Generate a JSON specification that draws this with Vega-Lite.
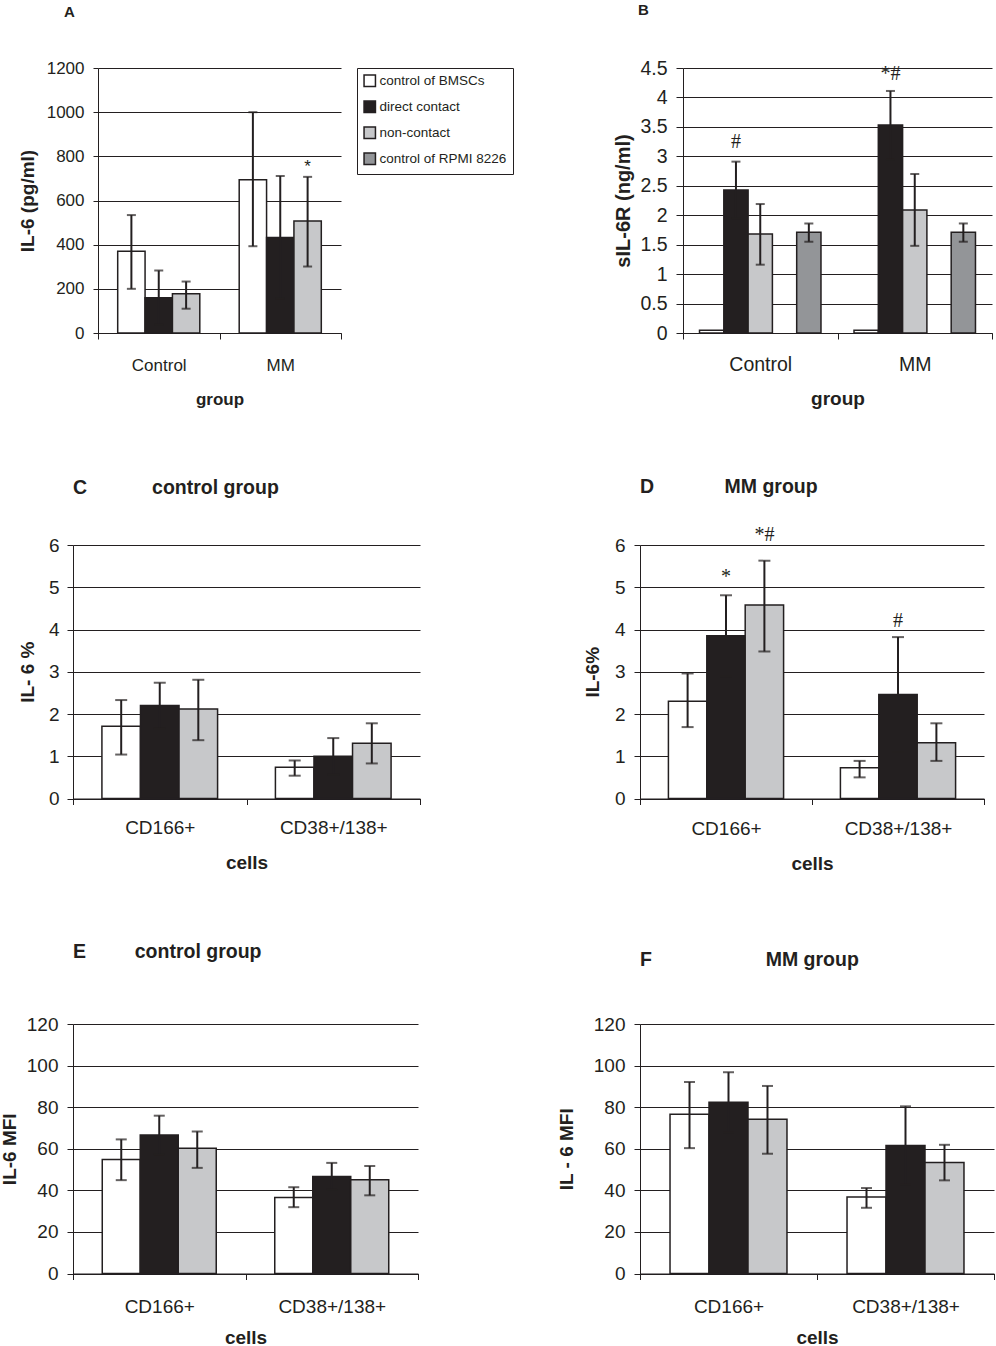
{
  "$schema": "https://vega.github.io/schema/vega-lite/v6.json",
  "background": "white",
  "padding": {"left": 0, "top": 2, "right": 0, "bottom": 0},
  "spacing": 68,
  "align": "none",
  "datasets": {
    "a": [
      {"group": "Control", "series": "control of BMSCs", "value": 370, "lo": 200, "hi": 534},
      {"group": "Control", "series": "direct contact", "value": 160, "lo": 37, "hi": 283},
      {"group": "Control", "series": "non-contact", "value": 178, "lo": 110, "hi": 233},
      {"group": "MM", "series": "control of BMSCs", "value": 694, "lo": 393, "hi": 1000},
      {"group": "MM", "series": "direct contact", "value": 433, "lo": 155, "hi": 711},
      {"group": "MM", "series": "non-contact", "value": 507, "lo": 301, "hi": 707}
    ],
    "a_note": [
      {"group": "MM", "series": "non-contact", "y": 752, "label": "*"}
    ],
    "b": [
      {"group": "Control", "series": "control of BMSCs", "value": 0.045},
      {"group": "Control", "series": "direct contact", "value": 2.43, "lo": 1.95, "hi": 2.91},
      {"group": "Control", "series": "non-contact", "value": 1.68, "lo": 1.16, "hi": 2.19},
      {"group": "Control", "series": "control of RPMI 8226", "value": 1.71, "lo": 1.55, "hi": 1.86},
      {"group": "MM", "series": "control of BMSCs", "value": 0.045},
      {"group": "MM", "series": "direct contact", "value": 3.53, "lo": 2.95, "hi": 4.11},
      {"group": "MM", "series": "non-contact", "value": 2.09, "lo": 1.48, "hi": 2.7},
      {"group": "MM", "series": "control of RPMI 8226", "value": 1.71, "lo": 1.55, "hi": 1.86}
    ],
    "b_note": [
      {"group": "Control", "series": "direct contact", "y": 3.25, "label": "#"},
      {"group": "MM", "series": "direct contact", "y": 4.39, "label": "*#"}
    ],
    "c": [
      {"group": "CD166+", "series": "control of BMSCs", "value": 1.71, "lo": 1.04, "hi": 2.33},
      {"group": "CD166+", "series": "direct contact", "value": 2.2, "lo": 1.66, "hi": 2.74},
      {"group": "CD166+", "series": "non-contact", "value": 2.12, "lo": 1.38, "hi": 2.81},
      {"group": "CD38+/138+", "series": "control of BMSCs", "value": 0.74, "lo": 0.54, "hi": 0.9},
      {"group": "CD38+/138+", "series": "direct contact", "value": 1.0, "lo": 0.57, "hi": 1.43},
      {"group": "CD38+/138+", "series": "non-contact", "value": 1.31, "lo": 0.83, "hi": 1.78}
    ],
    "d": [
      {"group": "CD166+", "series": "control of BMSCs", "value": 2.3, "lo": 1.69, "hi": 2.96},
      {"group": "CD166+", "series": "direct contact", "value": 3.85, "lo": 2.89, "hi": 4.81},
      {"group": "CD166+", "series": "non-contact", "value": 4.58, "lo": 3.48, "hi": 5.63},
      {"group": "CD38+/138+", "series": "control of BMSCs", "value": 0.73, "lo": 0.5, "hi": 0.89},
      {"group": "CD38+/138+", "series": "direct contact", "value": 2.46, "lo": 1.1, "hi": 3.82},
      {"group": "CD38+/138+", "series": "non-contact", "value": 1.32, "lo": 0.89, "hi": 1.78}
    ],
    "d_note": [
      {"group": "CD166+", "series": "direct contact", "y": 5.24, "label": "*"},
      {"group": "CD166+", "series": "non-contact", "y": 6.23, "label": "*#"},
      {"group": "CD38+/138+", "series": "direct contact", "y": 4.21, "label": "#"}
    ],
    "e": [
      {"group": "CD166+", "series": "control of BMSCs", "value": 54.8, "lo": 44.9, "hi": 64.5},
      {"group": "CD166+", "series": "direct contact", "value": 66.6, "lo": 57.3, "hi": 75.9},
      {"group": "CD166+", "series": "non-contact", "value": 60.2, "lo": 50.8, "hi": 68.3},
      {"group": "CD38+/138+", "series": "control of BMSCs", "value": 36.5, "lo": 31.9, "hi": 41.5},
      {"group": "CD38+/138+", "series": "direct contact", "value": 46.7, "lo": 40.2, "hi": 53.2},
      {"group": "CD38+/138+", "series": "non-contact", "value": 45.1, "lo": 37.6, "hi": 51.7}
    ],
    "f": [
      {"group": "CD166+", "series": "control of BMSCs", "value": 76.6, "lo": 60.3, "hi": 92.1},
      {"group": "CD166+", "series": "direct contact", "value": 82.4, "lo": 68.0, "hi": 96.8},
      {"group": "CD166+", "series": "non-contact", "value": 74.2, "lo": 57.6, "hi": 90.2},
      {"group": "CD38+/138+", "series": "control of BMSCs", "value": 36.8, "lo": 31.6, "hi": 41.1},
      {"group": "CD38+/138+", "series": "direct contact", "value": 61.6, "lo": 42.8, "hi": 80.4},
      {"group": "CD38+/138+", "series": "non-contact", "value": 53.4, "lo": 44.8, "hi": 61.9}
    ]
  },
  "vconcat": [
    {
      "hconcat": [
        {
          "width": 268,
          "height": 265,
          "title": {"text": "A", "fontSize": 15, "dx": -9, "offset": 39.5},
          "data": {"name": "a"},
          "encoding": {
            "x": {"field": "group", "type": "nominal", "sort": null, "title": "group",
              "scale": {"range": [25, 268], "paddingInner": 0, "paddingOuter": 0},
              "axis": {"labelAngle": 0, "tickBand": "extent", "tickSize": 6, "labelPadding": 18, "titlePadding": 18, "labelFontSize": 17, "titleFontSize": 17}},
            "xOffset": {"field": "series", "type": "nominal", "sort": null,
              "scale": {"domain": ["control of BMSCs", "direct contact", "non-contact"], "paddingInner": 0, "paddingOuter": 0.72}}
          },
          "layer": [
            {
              "mark": {"type": "bar", "stroke": "#231f20", "strokeWidth": 1.5},
              "encoding": {
                "y": {"field": "value", "type": "quantitative", "title": "IL-6 (pg/ml)",
                  "scale": {"domain": [0, 1200], "nice": false},
                  "axis": {"values": [0, 200, 400, 600, 800, 1000, 1200], "format": "d", "offset": -25, "tickSize": 5, "labelPadding": 9, "titlePadding": 8.7, "labelFontSize": 17, "titleFontSize": 19}},
                "fill": {"field": "series", "type": "nominal",
                  "scale": {"domain": ["control of BMSCs", "direct contact", "non-contact", "control of RPMI 8226"], "range": ["#ffffff", "#231f20", "#c7c8ca", "#939598"]},
                  "legend": {"title": null, "orient": "right", "offset": 16, "padding": 6, "strokeColor": "#231f20", "fillColor": "white",
                    "symbolType": "square", "symbolSize": 130, "symbolStrokeColor": "#231f20", "symbolStrokeWidth": 1.5,
                    "labelFontSize": 13.5, "labelColor": "#231f20", "labelOffset": 3, "rowPadding": 8, "labelLimit": 300}}
              }
            },
            {
              "mark": {"type": "rule", "color": "#231f20", "strokeWidth": 2},
              "encoding": {
                "y": {"field": "lo", "type": "quantitative", "title": "IL-6 (pg/ml)",
                  "scale": {"domain": [0, 1200], "nice": false},
                  "axis": {"values": [0, 200, 400, 600, 800, 1000, 1200], "format": "d", "offset": -25, "tickSize": 5, "labelPadding": 9, "titlePadding": 8.7, "labelFontSize": 17, "titleFontSize": 19}},
                "y2": {"field": "hi"}
              }
            },
            {
              "mark": {"type": "tick", "color": "#231f20", "thickness": 2, "size": 9},
              "encoding": {
                "y": {"field": "lo", "type": "quantitative", "title": "IL-6 (pg/ml)",
                  "scale": {"domain": [0, 1200], "nice": false},
                  "axis": {"values": [0, 200, 400, 600, 800, 1000, 1200], "format": "d", "offset": -25, "tickSize": 5, "labelPadding": 9, "titlePadding": 8.7, "labelFontSize": 17, "titleFontSize": 19}}
              }
            },
            {
              "mark": {"type": "tick", "color": "#231f20", "thickness": 2, "size": 9},
              "encoding": {
                "y": {"field": "hi", "type": "quantitative", "title": "IL-6 (pg/ml)",
                  "scale": {"domain": [0, 1200], "nice": false},
                  "axis": {"values": [0, 200, 400, 600, 800, 1000, 1200], "format": "d", "offset": -25, "tickSize": 5, "labelPadding": 9, "titlePadding": 8.7, "labelFontSize": 17, "titleFontSize": 19}}
              }
            },
            {
              "data": {"name": "a_note"},
              "mark": {"type": "text", "fontSize": 17, "baseline": "middle", "color": "#231f20"},
              "encoding": {
                "y": {"field": "y", "type": "quantitative", "title": "IL-6 (pg/ml)",
                  "scale": {"domain": [0, 1200], "nice": false},
                  "axis": {"values": [0, 200, 400, 600, 800, 1000, 1200], "format": "d", "offset": -25, "tickSize": 5, "labelPadding": 9, "titlePadding": 8.7, "labelFontSize": 17, "titleFontSize": 19}},
                "text": {"field": "label"}
              }
            }
          ]
        },
        {
          "width": 309,
          "height": 265,
          "title": {"text": "B", "fontSize": 15, "dx": -45, "offset": 40.5},
          "data": {"name": "b"},
          "encoding": {
            "x": {"field": "group", "type": "nominal", "sort": null, "title": "group",
              "scale": {"paddingInner": 0, "paddingOuter": 0},
              "axis": {"labelAngle": 0, "tickBand": "extent", "tickSize": 6, "labelPadding": 16, "titlePadding": 15.5, "labelFontSize": 19.5, "titleFontSize": 19}},
            "xOffset": {"field": "series", "type": "nominal", "sort": null,
              "scale": {"domain": ["control of BMSCs", "direct contact", "non-contact", "gap", "control of RPMI 8226"], "paddingInner": 0, "paddingOuter": 0.68}}
          },
          "layer": [
            {
              "mark": {"type": "bar", "stroke": "#231f20", "strokeWidth": 1.5},
              "encoding": {
                "y": {"field": "value", "type": "quantitative", "title": "sIL-6R (ng/ml)",
                  "scale": {"domain": [0, 4.5], "nice": false},
                  "axis": {"values": [0, 0.5, 1, 1.5, 2, 2.5, 3, 3.5, 4, 4.5], "format": "~g", "tickSize": 7, "labelPadding": 9, "titlePadding": 6, "labelFontSize": 19.5, "titleFontSize": 20}},
                "fill": {"field": "series", "type": "nominal",
                  "scale": {"domain": ["control of BMSCs", "direct contact", "non-contact", "control of RPMI 8226"], "range": ["#ffffff", "#231f20", "#c7c8ca", "#939598"]},
                  "legend": null}
              }
            },
            {
              "mark": {"type": "rule", "color": "#231f20", "strokeWidth": 2},
              "encoding": {
                "y": {"field": "lo", "type": "quantitative", "title": "sIL-6R (ng/ml)",
                  "scale": {"domain": [0, 4.5], "nice": false},
                  "axis": {"values": [0, 0.5, 1, 1.5, 2, 2.5, 3, 3.5, 4, 4.5], "format": "~g", "tickSize": 7, "labelPadding": 9, "titlePadding": 6, "labelFontSize": 19.5, "titleFontSize": 20}},
                "y2": {"field": "hi"}
              }
            },
            {
              "mark": {"type": "tick", "color": "#231f20", "thickness": 2, "size": 9},
              "encoding": {
                "y": {"field": "lo", "type": "quantitative", "title": "sIL-6R (ng/ml)",
                  "scale": {"domain": [0, 4.5], "nice": false},
                  "axis": {"values": [0, 0.5, 1, 1.5, 2, 2.5, 3, 3.5, 4, 4.5], "format": "~g", "tickSize": 7, "labelPadding": 9, "titlePadding": 6, "labelFontSize": 19.5, "titleFontSize": 20}}
              }
            },
            {
              "mark": {"type": "tick", "color": "#231f20", "thickness": 2, "size": 9},
              "encoding": {
                "y": {"field": "hi", "type": "quantitative", "title": "sIL-6R (ng/ml)",
                  "scale": {"domain": [0, 4.5], "nice": false},
                  "axis": {"values": [0, 0.5, 1, 1.5, 2, 2.5, 3, 3.5, 4, 4.5], "format": "~g", "tickSize": 7, "labelPadding": 9, "titlePadding": 6, "labelFontSize": 19.5, "titleFontSize": 20}}
              }
            },
            {
              "data": {"name": "b_note"},
              "mark": {"type": "text", "font": "Liberation Serif", "fontSize": 20, "baseline": "middle", "color": "#231f20"},
              "encoding": {
                "y": {"field": "y", "type": "quantitative", "title": "sIL-6R (ng/ml)",
                  "scale": {"domain": [0, 4.5], "nice": false},
                  "axis": {"values": [0, 0.5, 1, 1.5, 2, 2.5, 3, 3.5, 4, 4.5], "format": "~g", "tickSize": 7, "labelPadding": 9, "titlePadding": 6, "labelFontSize": 19.5, "titleFontSize": 20}},
                "text": {"field": "label"}
              }
            }
          ]
        }
      ],
      "spacing": 99,
      "align": "none",
      "resolve": {"scale": {"fill": "independent", "xOffset": "independent"}, "legend": {"fill": "independent"}}
    },
    {
      "hconcat": [
        {
          "width": 347,
          "height": 253.5,
          "title": {"text": "C\u00a0\u00a0\u00a0\u00a0\u00a0\u00a0\u00a0\u00a0\u00a0\u00a0\u00a0\u00a0control group", "fontSize": 19.5, "offset": 37.5},
          "data": {"name": "c"},
          "encoding": {
            "x": {"field": "group", "type": "nominal", "sort": null, "title": "cells",
              "scale": {"paddingInner": 0, "paddingOuter": 0},
              "axis": {"labelAngle": 0, "tickBand": "extent", "tickSize": 6, "labelPadding": 13.5, "titlePadding": 16.5, "labelFontSize": 19, "titleFontSize": 19}},
            "xOffset": {"field": "series", "type": "nominal", "sort": null,
              "scale": {"domain": ["control of BMSCs", "direct contact", "non-contact"], "paddingInner": 0, "paddingOuter": 0.75}}
          },
          "layer": [
            {
              "mark": {"type": "bar", "stroke": "#231f20", "strokeWidth": 1.5},
              "encoding": {
                "y": {"field": "value", "type": "quantitative", "title": "IL- 6 %",
                  "scale": {"domain": [0, 6], "nice": false},
                  "axis": {"values": [0, 1, 2, 3, 4, 5, 6], "format": "d", "tickSize": 6, "labelPadding": 8, "titlePadding": 11, "labelFontSize": 19, "titleFontSize": 19}},
                "fill": {"field": "series", "type": "nominal",
                  "scale": {"domain": ["control of BMSCs", "direct contact", "non-contact", "control of RPMI 8226"], "range": ["#ffffff", "#231f20", "#c7c8ca", "#939598"]},
                  "legend": null}
              }
            },
            {
              "mark": {"type": "rule", "color": "#231f20", "strokeWidth": 2},
              "encoding": {
                "y": {"field": "lo", "type": "quantitative", "title": "IL- 6 %",
                  "scale": {"domain": [0, 6], "nice": false},
                  "axis": {"values": [0, 1, 2, 3, 4, 5, 6], "format": "d", "tickSize": 6, "labelPadding": 8, "titlePadding": 11, "labelFontSize": 19, "titleFontSize": 19}},
                "y2": {"field": "hi"}
              }
            },
            {
              "mark": {"type": "tick", "color": "#231f20", "thickness": 2, "size": 12},
              "encoding": {
                "y": {"field": "lo", "type": "quantitative", "title": "IL- 6 %",
                  "scale": {"domain": [0, 6], "nice": false},
                  "axis": {"values": [0, 1, 2, 3, 4, 5, 6], "format": "d", "tickSize": 6, "labelPadding": 8, "titlePadding": 11, "labelFontSize": 19, "titleFontSize": 19}}
              }
            },
            {
              "mark": {"type": "tick", "color": "#231f20", "thickness": 2, "size": 12},
              "encoding": {
                "y": {"field": "hi", "type": "quantitative", "title": "IL- 6 %",
                  "scale": {"domain": [0, 6], "nice": false},
                  "axis": {"values": [0, 1, 2, 3, 4, 5, 6], "format": "d", "tickSize": 6, "labelPadding": 8, "titlePadding": 11, "labelFontSize": 19, "titleFontSize": 19}}
              }
            }
          ]
        },
        {
          "width": 344,
          "height": 253.5,
          "title": {"text": "D\u00a0\u00a0\u00a0\u00a0\u00a0\u00a0\u00a0\u00a0\u00a0\u00a0\u00a0\u00a0\u00a0MM group", "fontSize": 19.5, "offset": 27.8},
          "data": {"name": "d"},
          "encoding": {
            "x": {"field": "group", "type": "nominal", "sort": null, "title": "cells",
              "scale": {"paddingInner": 0, "paddingOuter": 0},
              "axis": {"labelAngle": 0, "tickBand": "extent", "tickSize": 6, "labelPadding": 15, "titlePadding": 15.5, "labelFontSize": 19, "titleFontSize": 19}},
            "xOffset": {"field": "series", "type": "nominal", "sort": null,
              "scale": {"domain": ["control of BMSCs", "direct contact", "non-contact"], "paddingInner": 0, "paddingOuter": 0.74}}
          },
          "layer": [
            {
              "mark": {"type": "bar", "stroke": "#231f20", "strokeWidth": 1.5},
              "encoding": {
                "y": {"field": "value", "type": "quantitative", "title": "IL-6%",
                  "scale": {"domain": [0, 6], "nice": false},
                  "axis": {"values": [0, 1, 2, 3, 4, 5, 6], "format": "d", "tickSize": 6, "labelPadding": 9, "titlePadding": 12, "labelFontSize": 19, "titleFontSize": 19}},
                "fill": {"field": "series", "type": "nominal",
                  "scale": {"domain": ["control of BMSCs", "direct contact", "non-contact", "control of RPMI 8226"], "range": ["#ffffff", "#231f20", "#c7c8ca", "#939598"]},
                  "legend": null}
              }
            },
            {
              "mark": {"type": "rule", "color": "#231f20", "strokeWidth": 2},
              "encoding": {
                "y": {"field": "lo", "type": "quantitative", "title": "IL-6%",
                  "scale": {"domain": [0, 6], "nice": false},
                  "axis": {"values": [0, 1, 2, 3, 4, 5, 6], "format": "d", "tickSize": 6, "labelPadding": 9, "titlePadding": 12, "labelFontSize": 19, "titleFontSize": 19}},
                "y2": {"field": "hi"}
              }
            },
            {
              "mark": {"type": "tick", "color": "#231f20", "thickness": 2, "size": 12},
              "encoding": {
                "y": {"field": "lo", "type": "quantitative", "title": "IL-6%",
                  "scale": {"domain": [0, 6], "nice": false},
                  "axis": {"values": [0, 1, 2, 3, 4, 5, 6], "format": "d", "tickSize": 6, "labelPadding": 9, "titlePadding": 12, "labelFontSize": 19, "titleFontSize": 19}}
              }
            },
            {
              "mark": {"type": "tick", "color": "#231f20", "thickness": 2, "size": 12},
              "encoding": {
                "y": {"field": "hi", "type": "quantitative", "title": "IL-6%",
                  "scale": {"domain": [0, 6], "nice": false},
                  "axis": {"values": [0, 1, 2, 3, 4, 5, 6], "format": "d", "tickSize": 6, "labelPadding": 9, "titlePadding": 12, "labelFontSize": 19, "titleFontSize": 19}}
              }
            },
            {
              "data": {"name": "d_note"},
              "mark": {"type": "text", "font": "Liberation Serif", "fontSize": 20, "baseline": "middle", "color": "#231f20"},
              "encoding": {
                "y": {"field": "y", "type": "quantitative", "title": "IL-6%",
                  "scale": {"domain": [0, 6], "nice": false},
                  "axis": {"values": [0, 1, 2, 3, 4, 5, 6], "format": "d", "tickSize": 6, "labelPadding": 9, "titlePadding": 12, "labelFontSize": 19, "titleFontSize": 19}},
                "text": {"field": "label"}
              }
            }
          ]
        }
      ],
      "spacing": 162,
      "align": "none",
      "resolve": {"scale": {"fill": "independent", "xOffset": "independent"}, "legend": {"fill": "independent"}}
    },
    {
      "hconcat": [
        {
          "width": 345,
          "height": 249.5,
          "title": {"text": "E\u00a0\u00a0\u00a0\u00a0\u00a0\u00a0\u00a0\u00a0\u00a0control group", "fontSize": 19.5, "offset": 53},
          "data": {"name": "e"},
          "encoding": {
            "x": {"field": "group", "type": "nominal", "sort": null, "title": "cells",
              "scale": {"paddingInner": 0, "paddingOuter": 0},
              "axis": {"labelAngle": 0, "tickBand": "extent", "tickSize": 6, "labelPadding": 17.5, "titlePadding": 12, "labelFontSize": 19, "titleFontSize": 19}},
            "xOffset": {"field": "series", "type": "nominal", "sort": null,
              "scale": {"domain": ["control of BMSCs", "direct contact", "non-contact"], "paddingInner": 0, "paddingOuter": 0.77}}
          },
          "layer": [
            {
              "mark": {"type": "bar", "stroke": "#231f20", "strokeWidth": 1.5},
              "encoding": {
                "y": {"field": "value", "type": "quantitative", "title": "IL-6 MFI",
                  "scale": {"domain": [0, 120], "nice": false},
                  "axis": {"values": [0, 20, 40, 60, 80, 100, 120], "format": "d", "tickSize": 6, "labelPadding": 9, "titlePadding": 6.3, "labelFontSize": 19, "titleFontSize": 19}},
                "fill": {"field": "series", "type": "nominal",
                  "scale": {"domain": ["control of BMSCs", "direct contact", "non-contact", "control of RPMI 8226"], "range": ["#ffffff", "#231f20", "#c7c8ca", "#939598"]},
                  "legend": null}
              }
            },
            {
              "mark": {"type": "rule", "color": "#231f20", "strokeWidth": 2},
              "encoding": {
                "y": {"field": "lo", "type": "quantitative", "title": "IL-6 MFI",
                  "scale": {"domain": [0, 120], "nice": false},
                  "axis": {"values": [0, 20, 40, 60, 80, 100, 120], "format": "d", "tickSize": 6, "labelPadding": 9, "titlePadding": 6.3, "labelFontSize": 19, "titleFontSize": 19}},
                "y2": {"field": "hi"}
              }
            },
            {
              "mark": {"type": "tick", "color": "#231f20", "thickness": 2, "size": 11},
              "encoding": {
                "y": {"field": "lo", "type": "quantitative", "title": "IL-6 MFI",
                  "scale": {"domain": [0, 120], "nice": false},
                  "axis": {"values": [0, 20, 40, 60, 80, 100, 120], "format": "d", "tickSize": 6, "labelPadding": 9, "titlePadding": 6.3, "labelFontSize": 19, "titleFontSize": 19}}
              }
            },
            {
              "mark": {"type": "tick", "color": "#231f20", "thickness": 2, "size": 11},
              "encoding": {
                "y": {"field": "hi", "type": "quantitative", "title": "IL-6 MFI",
                  "scale": {"domain": [0, 120], "nice": false},
                  "axis": {"values": [0, 20, 40, 60, 80, 100, 120], "format": "d", "tickSize": 6, "labelPadding": 9, "titlePadding": 6.3, "labelFontSize": 19, "titleFontSize": 19}}
              }
            }
          ]
        },
        {
          "width": 354,
          "height": 249.5,
          "title": {"text": "F\u00a0\u00a0\u00a0\u00a0\u00a0\u00a0\u00a0\u00a0\u00a0\u00a0\u00a0\u00a0\u00a0\u00a0\u00a0\u00a0\u00a0\u00a0\u00a0\u00a0\u00a0MM group", "fontSize": 19.5, "offset": 44.5},
          "data": {"name": "f"},
          "encoding": {
            "x": {"field": "group", "type": "nominal", "sort": null, "title": "cells",
              "scale": {"paddingInner": 0, "paddingOuter": 0},
              "axis": {"labelAngle": 0, "tickBand": "extent", "tickSize": 6, "labelPadding": 17.5, "titlePadding": 12, "labelFontSize": 19, "titleFontSize": 19}},
            "xOffset": {"field": "series", "type": "nominal", "sort": null,
              "scale": {"domain": ["control of BMSCs", "direct contact", "non-contact"], "paddingInner": 0, "paddingOuter": 0.77}}
          },
          "layer": [
            {
              "mark": {"type": "bar", "stroke": "#231f20", "strokeWidth": 1.5},
              "encoding": {
                "y": {"field": "value", "type": "quantitative", "title": "IL - 6 MFI",
                  "scale": {"domain": [0, 120], "nice": false},
                  "axis": {"values": [0, 20, 40, 60, 80, 100, 120], "format": "d", "tickSize": 6, "labelPadding": 9, "titlePadding": 17, "labelFontSize": 19, "titleFontSize": 19}},
                "fill": {"field": "series", "type": "nominal",
                  "scale": {"domain": ["control of BMSCs", "direct contact", "non-contact", "control of RPMI 8226"], "range": ["#ffffff", "#231f20", "#c7c8ca", "#939598"]},
                  "legend": null}
              }
            },
            {
              "mark": {"type": "rule", "color": "#231f20", "strokeWidth": 2},
              "encoding": {
                "y": {"field": "lo", "type": "quantitative", "title": "IL - 6 MFI",
                  "scale": {"domain": [0, 120], "nice": false},
                  "axis": {"values": [0, 20, 40, 60, 80, 100, 120], "format": "d", "tickSize": 6, "labelPadding": 9, "titlePadding": 17, "labelFontSize": 19, "titleFontSize": 19}},
                "y2": {"field": "hi"}
              }
            },
            {
              "mark": {"type": "tick", "color": "#231f20", "thickness": 2, "size": 11},
              "encoding": {
                "y": {"field": "lo", "type": "quantitative", "title": "IL - 6 MFI",
                  "scale": {"domain": [0, 120], "nice": false},
                  "axis": {"values": [0, 20, 40, 60, 80, 100, 120], "format": "d", "tickSize": 6, "labelPadding": 9, "titlePadding": 17, "labelFontSize": 19, "titleFontSize": 19}}
              }
            },
            {
              "mark": {"type": "tick", "color": "#231f20", "thickness": 2, "size": 11},
              "encoding": {
                "y": {"field": "hi", "type": "quantitative", "title": "IL - 6 MFI",
                  "scale": {"domain": [0, 120], "nice": false},
                  "axis": {"values": [0, 20, 40, 60, 80, 100, 120], "format": "d", "tickSize": 6, "labelPadding": 9, "titlePadding": 17, "labelFontSize": 19, "titleFontSize": 19}}
              }
            }
          ]
        }
      ],
      "spacing": 138,
      "align": "none",
      "resolve": {"scale": {"fill": "independent", "xOffset": "independent"}, "legend": {"fill": "independent"}}
    }
  ],
  "resolve": {"scale": {"fill": "independent", "xOffset": "independent"}, "legend": {"fill": "independent"}},
  "config": {
    "view": {"stroke": null},
    "font": "Liberation Sans",
    "axis": {
      "labelFont": "Liberation Sans",
      "titleFont": "Liberation Sans",
      "labelColor": "#231f20",
      "titleColor": "#231f20",
      "titleFontWeight": "bold",
      "domainColor": "#231f20",
      "domainWidth": 1,
      "tickColor": "#231f20",
      "tickWidth": 1,
      "gridColor": "#231f20",
      "gridWidth": 1,
      "gridOpacity": 1
    },
    "axisX": {"grid": false},
    "axisY": {"grid": true},
    "title": {"font": "Liberation Sans", "color": "#231f20", "fontWeight": "bold", "anchor": "start", "frame": "group"}
  }
}
